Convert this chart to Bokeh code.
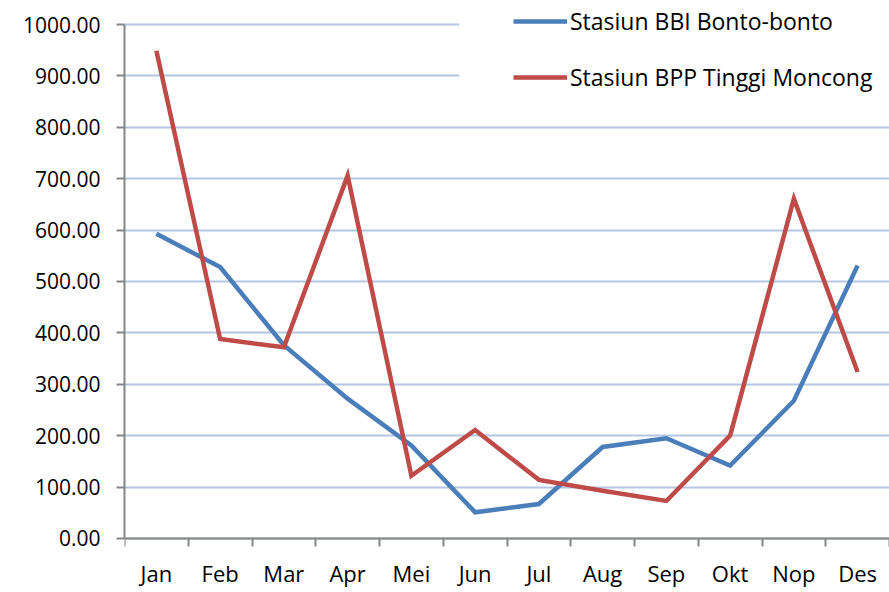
from bokeh.plotting import figure
from bokeh.models import (Range1d, FixedTicker, PrintfTickFormatter, Legend, LegendItem,
                          BoxAnnotation, ColumnDataSource)
from bokeh.embed import file_html
from bokeh.resources import INLINE

months = ["Jan", "Feb", "Mar", "Apr", "Mei", "Jun", "Jul", "Aug", "Sep", "Okt", "Nop", "Des"]
bbi_bonto = [593, 528, 376, 272, 181, 51, 67, 178, 195, 142, 268, 531]
bpp_tinggi = [949, 388, 372, 706, 122, 211, 114, 93, 73, 200, 661, 324]
series_names = ["Stasiun BBI Bonto-bonto", "Stasiun BPP Tinggi Moncong"]
y_ticks = [0, 100, 200, 300, 400, 500, 600, 700, 800, 900, 1000]

FONT = "Open Sans"
BLUE = "#4a7ebb"
RED = "#be4b48"

x = list(range(1, len(months) + 1))
src = ColumnDataSource(dict(x=x, bbi=bbi_bonto, bpp=bpp_tinggi))

p = figure(width=889, height=592, output_backend="svg", toolbar_location=None,
           x_range=Range1d(0.5, 12.5), y_range=Range1d(-105.1, 1046.7),
           min_border_left=124, min_border_right=0, min_border_top=0, min_border_bottom=0)
p.outline_line_color = None
p.background_fill_color = "white"
p.border_fill_color = "white"

# grid
p.xgrid.visible = False
p.ygrid.ticker = FixedTicker(ticks=y_ticks)
p.ygrid.grid_line_color = "#b4c6e4"
p.ygrid.grid_line_width = 2

# y axis
p.yaxis.ticker = FixedTicker(ticks=y_ticks)
p.yaxis.bounds = (0, 1000)
p.yaxis.formatter = PrintfTickFormatter(format="%.2f")
p.yaxis.axis_line_color = "#868686"
p.yaxis.axis_line_width = 2
p.yaxis.major_tick_line_color = "#868686"
p.yaxis.major_tick_line_width = 2
p.yaxis.major_tick_out = 8
p.yaxis.major_tick_in = 0
p.yaxis.minor_tick_line_color = None
p.yaxis.major_label_text_font = FONT
p.yaxis.major_label_text_font_size = "21px"
p.yaxis.major_label_text_color = "black"
p.yaxis.major_label_standoff = 16

# x axis: labels at centres, ticks at boundaries
p.xaxis.fixed_location = 0
p.xaxis.ticker = FixedTicker(ticks=x, minor_ticks=[i + 0.5 for i in range(0, len(months) + 1)])
p.xaxis.major_label_overrides = {i: m for i, m in zip(x, months)}
p.xaxis.axis_line_color = "#868686"
p.xaxis.axis_line_width = 2
p.xaxis.major_tick_line_color = None
p.xaxis.major_tick_out = 8
p.xaxis.major_tick_in = 0
p.xaxis.minor_tick_line_color = "#868686"
p.xaxis.minor_tick_line_width = 2
p.xaxis.minor_tick_out = 8
p.xaxis.minor_tick_in = 0
p.xaxis.major_label_text_font = FONT
p.xaxis.major_label_text_font_size = "22px"
p.xaxis.major_label_text_color = "black"
p.xaxis.major_label_standoff = 12

# white box behind legend hiding the top gridlines
p.add_layout(BoxAnnotation(left=5.75, bottom=840, fill_color="white", fill_alpha=1,
                           line_color=None, level="underlay"))

r1 = p.line("x", "bbi", source=src, line_color=BLUE, line_width=4.5, line_join="miter")
r2 = p.line("x", "bpp", source=src, line_color=RED, line_width=4.5, line_join="miter")

legend = Legend(items=[LegendItem(label=series_names[0], renderers=[r1]),
                       LegendItem(label=series_names[1], renderers=[r2])],
                location=(389, 499), orientation="vertical",
                label_text_font=FONT, label_text_font_size="23px", label_text_color="black",
                glyph_width=54, glyph_height=20, label_standoff=3, spacing=24,
                padding=0, margin=0, border_line_color=None, background_fill_alpha=0)
p.add_layout(legend, "center")

open("out.html", "w").write(file_html(p, INLINE))
